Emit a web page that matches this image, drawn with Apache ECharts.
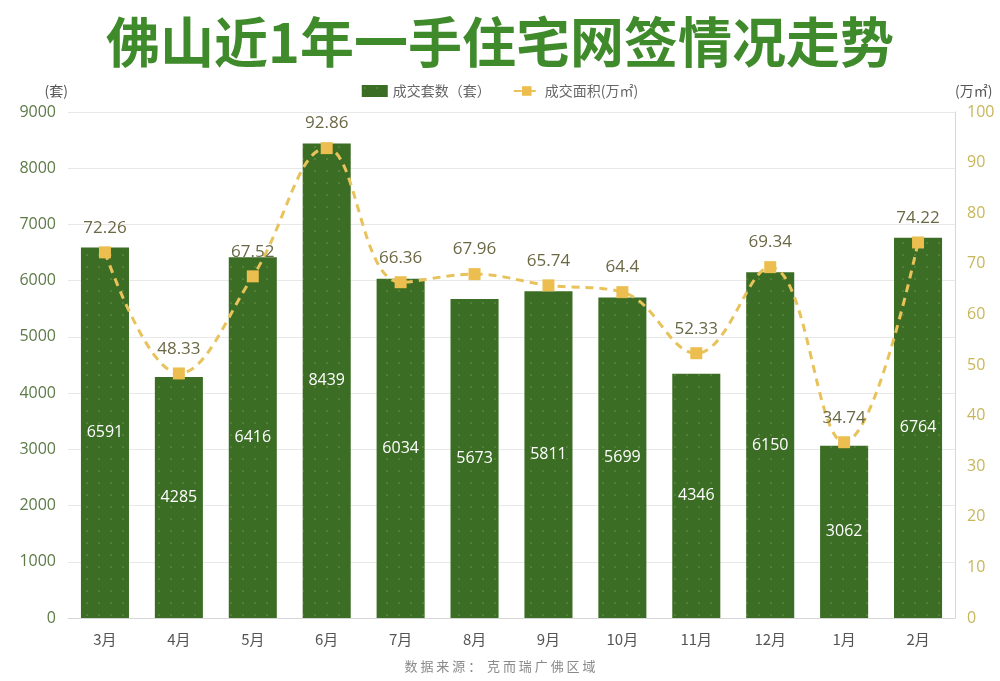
<!DOCTYPE html>
<html>
<head>
<meta charset="utf-8">
<script src="https://cdn.jsdelivr.net/npm/echarts@6/dist/echarts.min.js"></script>
<style>html,body{margin:0;padding:0;background:#fff;}#c{width:1000px;height:681px;}</style>
</head>
<body>
<div id="c"></div>
<script>
var categories = ['3月','4月','5月','6月','7月','8月','9月','10月','11月','12月','1月','2月'];
var units = [6591,4285,6416,8439,6034,5673,5811,5699,4346,6150,3062,6764];
var areas = [72.26,48.33,67.52,92.86,66.36,67.96,65.74,64.4,52.33,69.34,34.74,74.22];

var font = '"Noto Sans CJK SC","Noto Sans",sans-serif';
var numFont = '"Open Sans","Noto Sans",sans-serif';
var chart = echarts.init(document.getElementById('c'));
chart.setOption({
  backgroundColor: '#ffffff',
  textStyle: {fontFamily: font},
  title: [{
    text: '佛山近1年一手住宅网签情况走势',
    left: 'center', top: 10,
    textStyle: {fontSize: 54, fontWeight: 'bold', color: '#3f8a2b', fontFamily: font}
  }, {
    text: '数 据 来 源 ：  克 而 瑞 广 佛 区 域',
    left: 'center', top: 655,
    textStyle: {fontSize: 13, fontWeight: 'normal', color: '#8a8a8a', fontFamily: font}
  }],
  legend: {
    top: 79, left: 'center', itemGap: 22, itemWidth: 26, itemHeight: 12,
    textStyle: {fontSize: 14, color: '#666', fontFamily: font},
    data: [{name: '成交套数（套）', icon: 'rect'}, {name: '成交面积(万㎡)'}]
  },
  grid: {left: 68, right: 45, top: 112, bottom: 63},
  xAxis: {
    type: 'category', data: categories,
    axisLine: {lineStyle: {color: '#d6d6d6'}},
    axisTick: {lineStyle: {color: '#d6d6d6'}, length: 6},
    axisLabel: {fontSize: 15, color: '#555', margin: 14, fontFamily: font}
  },
  yAxis: [{
    type: 'value', min: 0, max: 9000, interval: 1000,
    name: '(套)', nameGap: 14, nameTextStyle: {fontSize: 14, color: '#555', align: 'right'},
    axisLabel: {fontSize: 16, color: '#5d7a48', margin: 12, fontFamily: numFont, formatter: function (v) { return String(v); }},
    splitLine: {lineStyle: {color: '#e8e8e8'}},
    axisLine: {show: false}, axisTick: {show: false}
  }, {
    type: 'value', min: 0, max: 100, interval: 10,
    name: '(万㎡)', nameGap: 14, nameTextStyle: {fontSize: 14, color: '#555', align: 'left'},
    axisLabel: {fontSize: 16, color: '#c8b65a', margin: 12, fontFamily: numFont},
    splitLine: {show: false},
    axisLine: {show: true, lineStyle: {color: '#d6d6d6'}}, axisTick: {show: false}
  }],
  series: [{
    name: '成交套数（套）', type: 'bar', data: units, barWidth: '65%',
    itemStyle: {
      color: '#3b6d24',
      decal: {symbol: 'circle', symbolSize: 0.25, dashArrayX: 6, dashArrayY: 6, color: 'rgba(160,205,130,0.55)'}
    },
    label: {show: true, position: 'inside', color: '#ffffff', fontSize: 16, fontFamily: numFont}
  }, {
    name: '成交面积(万㎡)', type: 'line', yAxisIndex: 1, data: areas, smooth: 0.4,
    symbol: 'rect', symbolSize: 12,
    lineStyle: {color: '#e8c25a', width: 3, type: [8, 6]},
    itemStyle: {color: '#ecbe4f'},
    label: {show: true, position: 'top', distance: 10, color: '#6b6845', fontSize: 17, fontFamily: numFont}
  }]
});
</script>
</body>
</html>
